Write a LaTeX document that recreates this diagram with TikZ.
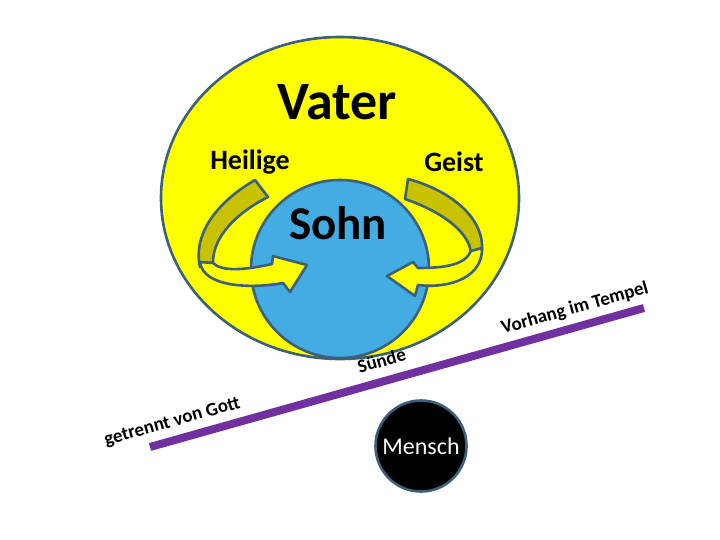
\documentclass[tikz,border=0pt]{standalone}
\usepackage{fontspec}
\setmainfont{Carlito}
\usepackage{tikz}
\usetikzlibrary{calc}

\definecolor{rand}{HTML}{3B6078}
\definecolor{gelb}{HTML}{FFFF00}
\definecolor{oliv}{HTML}{C9C200}
\definecolor{himmel}{HTML}{43ADE3}
\definecolor{lila}{HTML}{7030A0}

\tikzset{
  kante/.style={draw=rand, line width=2.6pt, line join=round},
  band/.style={kante, fill=oliv},
  pfeil/.style={kante, fill=gelb},
  schrift/.style={font=\bfseries\fontsize{#1}{#1}\selectfont, inner sep=0pt},
  schraeg/.style={sloped, above=6pt, text=black, font=\bfseries\fontsize{19}{19}\selectfont, inner sep=0pt}
}

\begin{document}
\begin{tikzpicture}[x=1pt, y=-1pt]
    \useasboundingbox (0,0) rectangle (720,540);

    % Vater und Sohn
    \draw[kante, fill=gelb] (340,198) ellipse (179 and 161);
    \draw[kante, fill=himmel] (340,269) circle (89);

    % linker Pfeil
    \draw[band] (255,180) -- (268,197) .. controls (238,212) and (213,236) .. (213,262)
        -- (200,267) .. controls (193,236) and (214,204) .. (255,180) -- cycle;
    \draw[pfeil] (200,262) .. controls (203,287) and (250,289) .. (283,283) -- (290,292)
        -- (307,265) -- (273,256) -- (272,264) .. controls (245,270) and (222,272) .. (213,263) -- cycle;

    % rechter Pfeil
    \draw[band] (408,179) .. controls (446,189) and (484,215) .. (482,250)
        -- (471,253) .. controls (469,231) and (440,211) .. (405,199) -- cycle;
    \draw[pfeil] (482,248) .. controls (483,277) and (450,289) .. (418,285) -- (415,296)
        -- (387,276) -- (413,262) -- (418,268) .. controls (445,268) and (465,265) .. (471,251) -- cycle;

    % Beschriftung
    \node[schrift=54] (vater) at (337,102) {Vater};
    \node[schrift=28] (heilige) at (250,162) {Heilige};
    \node[schrift=28] (geist) at (454,162) {Geist};
    \node[schrift=47] (sohn) at (338,223) {Sohn};

    % Vorhang
    \coordinate (links) at (150,447);
    \coordinate (rechts) at (644,308);
    \draw[lila, line width=8pt] (links) -- (rechts)
        node[schraeg, pos=0.055] (getrennt) {getrennt von Gott}
        node[schraeg, pos=0.48, above=4pt] (suende) {Sünde}
        node[schraeg, pos=0.87] (vorhang) {Vorhang im Tempel};

    % Mensch
    \node[circle, draw=rand, line width=2.6pt, fill=black, minimum size=91pt,
          text=white, font=\fontsize{24}{24}\selectfont] (mensch) at (421,446) {Mensch};
\end{tikzpicture}
\end{document}
